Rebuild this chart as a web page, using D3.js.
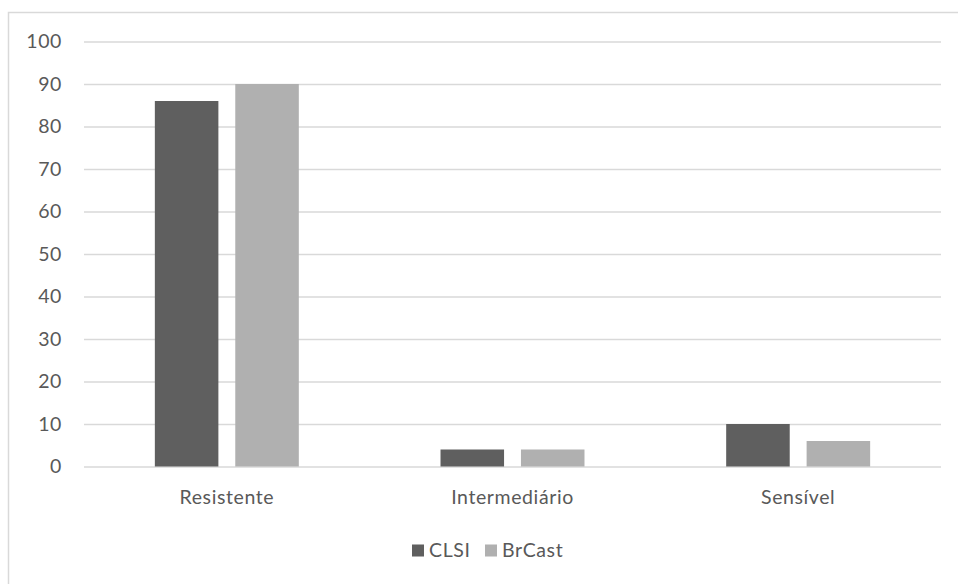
<!DOCTYPE html>
<html>
<head>
<meta charset="utf-8">
<script src="https://cdn.jsdelivr.net/npm/d3@7"></script>
<style>
  html, body { margin: 0; padding: 0; background: #fff; }
  svg { display: block; font-family: Lato, "Open Sans", sans-serif; }
</style>
</head>
<body>
<svg id="chart" width="958" height="584"></svg>
<script>
// Susceptibility categories and the percentage under each standard
const categories = ["Resistente", "Intermediário", "Sensível"];
const seriesNames = ["CLSI", "BrCast"];
const clsiValues = [86, 4, 10];
const brcastValues = [90, 4, 6];
const yTicks = [0, 10, 20, 30, 40, 50, 60, 70, 80, 90, 100];

const colors = { CLSI: "#5f5f5f", BrCast: "#b0b0b0" };
const textColor = "#595959";
const fontSize = 19.5;
const letterSpacing = 0.6;

const rows = categories.map((c, i) => ({
  category: c,
  values: [
    { key: "CLSI", value: clsiValues[i] },
    { key: "BrCast", value: brcastValues[i] }
  ]
}));

const svg = d3.select("#chart");

// Chart frame (runs off the right and bottom edges)
svg.append("rect")
  .attr("x", 8.5).attr("y", 12.5)
  .attr("width", 1000).attr("height", 1000)
  .attr("fill", "#fff")
  .attr("stroke", "#d9d9d9").attr("stroke-width", 1.5);

const plot = { left: 84, right: 941, top: 41.5, bottom: 466.5 };

const y = d3.scaleLinear().domain([0, 100]).range([plot.bottom, plot.top]);
const x0 = d3.scaleBand().domain(categories).range([plot.left, plot.right])
  .paddingInner(0).paddingOuter(0);
const x1 = d3.scaleBand().domain(seriesNames)
  .range([x0.bandwidth() * 0.248, x0.bandwidth() * 0.752])
  .paddingInner(0.21).paddingOuter(0);

// Horizontal gridlines with value labels
const yAxis = d3.axisLeft(y).tickValues(yTicks)
  .tickSize(-(plot.right - plot.left)).tickPadding(22).tickFormat(d3.format("d"));
const gy = svg.append("g")
  .attr("transform", `translate(${plot.left},0)`)
  .call(yAxis);
gy.select(".domain").remove();
gy.selectAll(".tick line").attr("stroke", "#d9d9d9").attr("stroke-width", 1.3);
gy.selectAll(".tick text")
  .attr("fill", textColor).attr("font-size", fontSize)
  .attr("letter-spacing", letterSpacing)
  .attr("font-family", "Lato, sans-serif");

// Bars
const groups = svg.append("g").selectAll("g")
  .data(rows).join("g")
  .attr("transform", d => `translate(${x0(d.category)},0)`);
groups.selectAll("rect")
  .data(d => d.values).join("rect")
  .attr("x", d => x1(d.key))
  .attr("width", x1.bandwidth())
  .attr("y", d => y(d.value))
  .attr("height", d => y(0) - y(d.value))
  .attr("fill", d => colors[d.key]);

// Category labels
const xAxis = d3.axisBottom(x0).tickSize(0).tickPadding(24);
const gx = svg.append("g")
  .attr("transform", `translate(0,${plot.bottom})`)
  .call(xAxis);
gx.select(".domain").remove();
gx.selectAll(".tick text")
  .attr("fill", textColor).attr("font-size", fontSize)
  .attr("letter-spacing", letterSpacing)
  .attr("font-family", "Lato, sans-serif");

// Legend
const legendItems = [
  { key: "CLSI", x: 412 },
  { key: "BrCast", x: 485 }
];
const legend = svg.append("g").selectAll("g")
  .data(legendItems).join("g")
  .attr("transform", d => `translate(${d.x},550.5)`);
legend.append("rect")
  .attr("x", 0).attr("y", -6).attr("width", 12).attr("height", 12)
  .attr("fill", d => colors[d.key]);
legend.append("text")
  .attr("x", 17).attr("y", 0).attr("dy", "0.35em")
  .attr("fill", textColor).attr("font-size", fontSize)
  .attr("letter-spacing", letterSpacing)
  .text(d => d.key);
</script>
</body>
</html>
